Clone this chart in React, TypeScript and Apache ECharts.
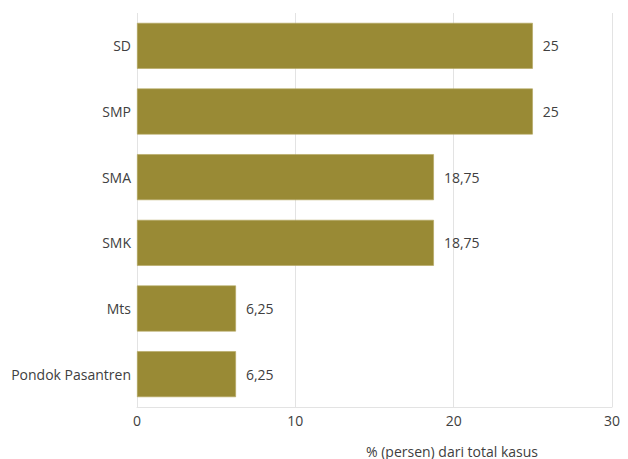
import React, { useEffect, useRef } from "react";
import * as echarts from "echarts";

const categories = ["SD", "SMP", "SMA", "SMK", "Mts", "Pondok Pasantren"];
const values = [25, 25, 18.75, 18.75, 6.25, 6.25];
const xTicks = [0, 10, 20, 30];
const axisTitle = "% (persen) dari total kasus";

export default function App() {
  const ref = useRef<HTMLDivElement>(null);
  useEffect(() => {
    if (!ref.current) return;
    const chart = echarts.init(ref.current, undefined, { renderer: "svg" });
    const font = "'Open Sans', sans-serif";
    chart.setOption({
      animation: false,
      grid: { left: 137, right: 16, top: 13, bottom: 52, containLabel: false },
      xAxis: {
        type: "value",
        min: xTicks[0],
        max: xTicks[xTicks.length - 1],
        interval: 10,
        axisLine: { show: true, lineStyle: { color: "#e3e3e3", width: 1 } },
        axisTick: { show: false },
        splitLine: { show: true, lineStyle: { color: "#e3e3e3", width: 1 } },
        axisLabel: { color: "#404040", fontSize: 14, fontFamily: font, margin: 6 },
      },
      yAxis: {
        type: "category",
        data: categories,
        inverse: true,
        axisLine: { show: false },
        axisTick: { show: false },
        axisLabel: { color: "#404040", fontSize: 14, fontFamily: font, margin: 6 },
      },
      series: [
        {
          type: "bar",
          data: values,
          barCategoryGap: "30%",
          itemStyle: { color: "#998A35", borderColor: "#b3a65e", borderWidth: 0.6 },
          label: {
            show: true,
            position: "right",
            distance: 10,
            color: "#404040",
            fontSize: 14,
            fontFamily: font,
            formatter: (p: any) => String(p.value).replace(".", ","),
          },
        },
      ],
      graphic: [
        {
          type: "text",
          x: 452,
          y: 451,
          style: {
            text: axisTitle,
            fill: "#404040",
            fontSize: 14,
            fontFamily: font,
            textAlign: "center",
            textVerticalAlign: "middle",
          },
        },
      ],
    });
    return () => chart.dispose();
  }, []);
  return <div ref={ref} style={{ width: 628, height: 459, position: "absolute", left: 0, top: 0 }} />;
}
